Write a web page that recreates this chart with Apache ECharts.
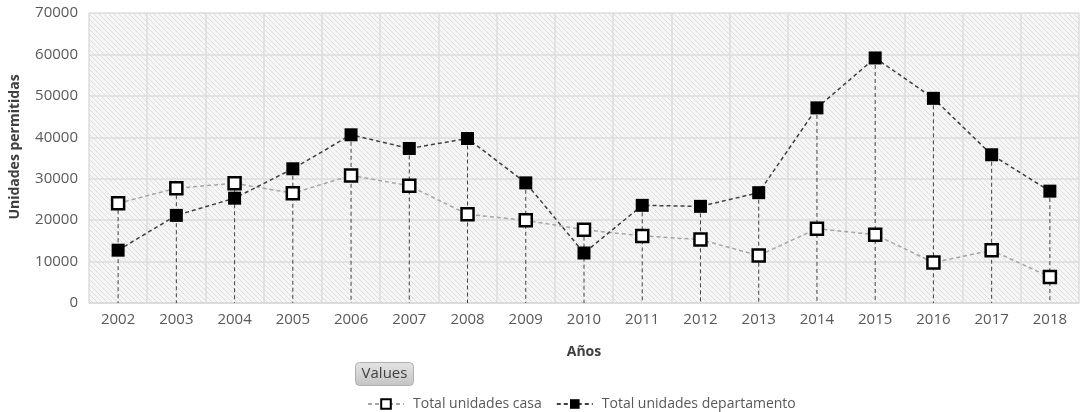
<!DOCTYPE html>
<html>
<head>
<meta charset="utf-8">
<script src="https://cdn.jsdelivr.net/npm/echarts@6/dist/echarts.min.js"></script>
<style>
  html, body { margin: 0; padding: 0; background: #fff; }
  #chart { width: 1088px; height: 412px; }
</style>
</head>
<body>
<div id="chart"></div>
<script>
// Permitted housing units per year
const years = ['2002','2003','2004','2005','2006','2007','2008','2009','2010','2011','2012','2013','2014','2015','2016','2017','2018'];
const casa = [24100, 27700, 28900, 26500, 30800, 28300, 21400, 19950, 17700, 16200, 15300, 11450, 17950, 16500, 9760, 12720, 6290];
const departamento = [12750, 21150, 25300, 32400, 40600, 37300, 39700, 29000, 12070, 23570, 23330, 26630, 47100, 59150, 49400, 35780, 27000];
const yTicks = [0, 10000, 20000, 30000, 40000, 50000, 60000, 70000];

const FONT = 'Open Sans';

// diagonal hatch used as plot background
function hatch() {
  const c = document.createElement('canvas');
  c.width = 5; c.height = 5;
  const g = c.getContext('2d');
  g.fillStyle = '#f6f6f6';
  g.fillRect(0, 0, 5, 5);
  g.strokeStyle = '#dedede';
  g.lineWidth = 1;
  g.beginPath();
  g.moveTo(-1, -1); g.lineTo(6, 6);
  g.moveTo(-1, 4); g.lineTo(1, 6);
  g.moveTo(4, -1); g.lineTo(6, 1);
  g.stroke();
  return c;
}

// drop line height per year: the higher of the two series
const dropTop = years.map((y, i) => Math.max(casa[i], departamento[i]));

const chart = echarts.init(document.getElementById('chart'));
chart.setOption({
  animation: false,
  grid: {
    left: 88, right: 9, top: 13, bottom: 109,
    show: true,
    backgroundColor: { image: hatch(), repeat: 'repeat' },
    borderWidth: 0
  },
  xAxis: {
    type: 'category',
    data: years,
    boundaryGap: true,
    name: 'Años',
    nameLocation: 'middle',
    nameGap: 42,
    nameTextStyle: { fontFamily: FONT, fontWeight: 'bold', fontSize: 14, color: '#404040' },
    axisLine: { lineStyle: { color: '#d9d9d9', width: 1.5 } },
    axisTick: { show: false },
    axisLabel: { fontFamily: FONT, fontSize: 15, color: '#595959', margin: 9 },
    splitLine: { show: true, lineStyle: { color: '#dcdcdc', width: 1.5 } }
  },
  yAxis: {
    type: 'value',
    min: yTicks[0],
    max: yTicks[yTicks.length - 1],
    interval: 10000,
    name: 'Unidades permitidas',
    nameLocation: 'middle',
    nameGap: 67,
    nameTextStyle: { fontFamily: FONT, fontWeight: 'bold', fontSize: 14, color: '#404040', padding: [0, 0, 0, 22] },
    axisLine: { show: false },
    axisTick: { show: false },
    axisLabel: { fontFamily: FONT, fontSize: 15, color: '#595959', margin: 11, formatter: v => String(v) },
    splitLine: { show: true, lineStyle: { color: '#dcdcdc', width: 1.5 } }
  },
  legend: {
    left: 362,
    top: 392,
    itemGap: 14,
    itemWidth: 36,
    itemHeight: 12,
    textStyle: { fontFamily: FONT, fontSize: 14, color: '#595959', padding: [0, 0, 0, 4] },
    data: ['Total unidades casa', 'Total unidades departamento']
  },
  graphic: [
    {
      type: 'group', left: 355, top: 362,
      children: [
        {
          type: 'rect',
          shape: { x: 0, y: 0, width: 58, height: 23, r: 4 },
          style: {
            fill: new echarts.graphic.LinearGradient(0, 0, 0, 1, [
              { offset: 0, color: '#e4e4e4' }, { offset: 1, color: '#c4c4c4' }
            ]),
            stroke: '#b0b0b0', lineWidth: 1
          }
        },
        {
          type: 'text', x: 29, y: 11.5,
          style: { text: 'Values', fontFamily: FONT, fontSize: 15, fill: '#404040', align: 'center', verticalAlign: 'middle' }
        }
      ]
    }
  ],
  series: [
    {
      name: 'drop',
      type: 'custom',
      silent: true,
      z: 1,
      data: dropTop.map((v, i) => [i, v]),
      renderItem: function (params, api) {
        const top = api.coord([api.value(0), api.value(1)]);
        const bottom = api.coord([api.value(0), 0]);
        return {
          type: 'line',
          shape: { x1: top[0], y1: top[1], x2: bottom[0], y2: bottom[1] },
          style: { stroke: '#404040', lineWidth: 1, lineDash: [4, 3] }
        };
      }
    },
    {
      name: 'Total unidades casa',
      type: 'line',
      data: casa,
      z: 3,
      symbol: 'rect',
      symbolSize: 12,
      lineStyle: { color: '#a6a6a6', width: 1.5, type: [4, 3] },
      itemStyle: { color: '#ffffff', borderColor: '#000000', borderWidth: 2.5 }
    },
    {
      name: 'Total unidades departamento',
      type: 'line',
      data: departamento,
      z: 4,
      symbol: 'rect',
      symbolSize: 13,
      lineStyle: { color: '#404040', width: 1.5, type: [4, 3] },
      itemStyle: { color: '#000000', borderColor: '#000000', borderWidth: 0 }
    }
  ]
});
</script>
</body>
</html>
